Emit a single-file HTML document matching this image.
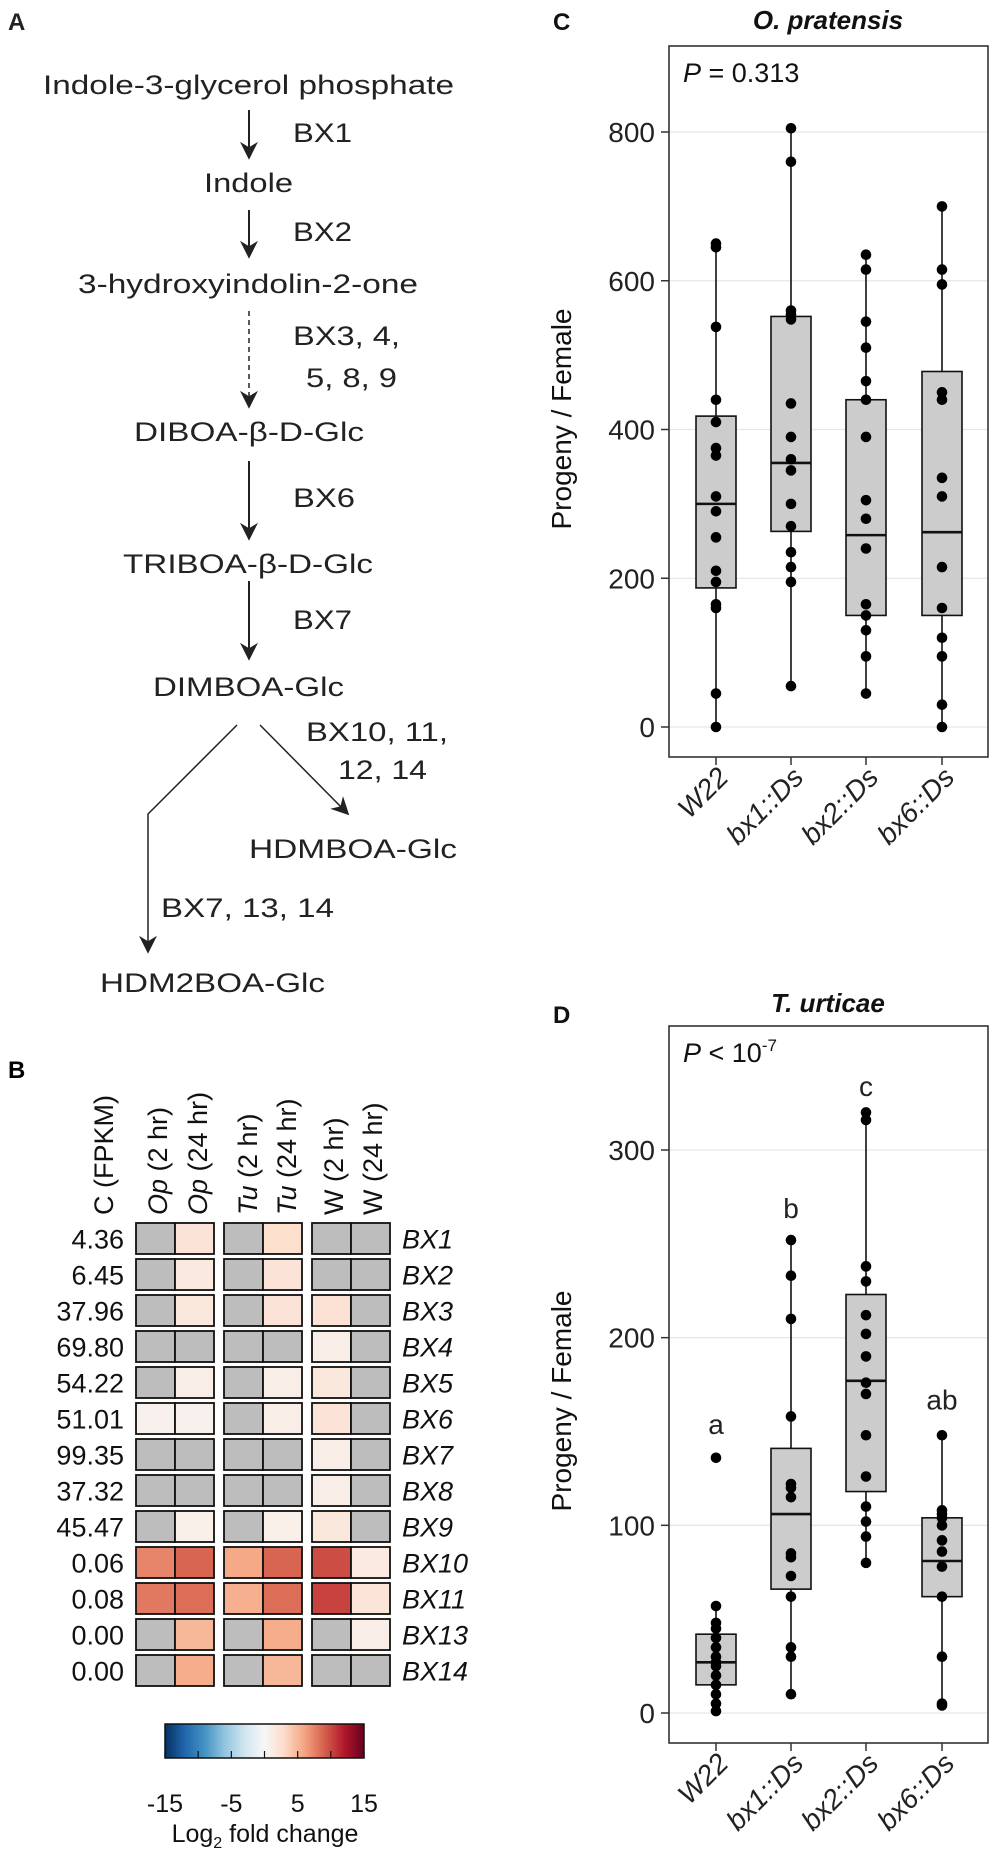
<!DOCTYPE html>
<html><head><meta charset="utf-8"><style>
html,body{margin:0;padding:0;background:#fff}
svg{display:block;font-family:"Liberation Sans",Arial,sans-serif}
</style></head><body>
<svg id="fig" xmlns="http://www.w3.org/2000/svg" width="995" height="1869" viewBox="0 0 995 1869">
<defs>
<marker id="ah2" viewBox="0 0 10 10" refX="9" refY="5" markerWidth="18" markerHeight="18" orient="auto" markerUnits="userSpaceOnUse"><path d="M0,0 L10,5 L0,10 L3,5 z" fill="#222"/></marker>
<linearGradient id="rdbu" x1="0" x2="1" y1="0" y2="0">
<stop offset="0" stop-color="#053061"/><stop offset="0.1" stop-color="#2166ac"/><stop offset="0.2" stop-color="#4393c3"/><stop offset="0.3" stop-color="#92c5de"/><stop offset="0.4" stop-color="#d1e5f0"/><stop offset="0.5" stop-color="#f7f7f7"/><stop offset="0.6" stop-color="#fddbc7"/><stop offset="0.7" stop-color="#f4a582"/><stop offset="0.8" stop-color="#d6604d"/><stop offset="0.9" stop-color="#b2182b"/><stop offset="1" stop-color="#67001f"/>
</linearGradient>
</defs>

<!-- Panel A -->
<g font-size="27" fill="#222">
<text x="8" y="30" font-weight="bold" font-size="24">A</text>
<text x="43" y="94" textLength="411" lengthAdjust="spacingAndGlyphs">Indole-3-glycerol phosphate</text>
<line x1="249" y1="110" x2="249" y2="158" stroke="#222" stroke-width="2" marker-end="url(#ah2)"/>
<text x="293" y="142" textLength="59" lengthAdjust="spacingAndGlyphs">BX1</text>
<text x="204" y="192" textLength="89" lengthAdjust="spacingAndGlyphs">Indole</text>
<line x1="249" y1="210" x2="249" y2="257" stroke="#222" stroke-width="2" marker-end="url(#ah2)"/>
<text x="293" y="241" textLength="59" lengthAdjust="spacingAndGlyphs">BX2</text>
<text x="78" y="293" textLength="340" lengthAdjust="spacingAndGlyphs">3-hydroxyindolin-2-one</text>
<line x1="249" y1="311" x2="249" y2="407" stroke="#222" stroke-width="1.5" stroke-dasharray="5,4" marker-end="url(#ah2)"/>
<text x="293" y="345" textLength="107" lengthAdjust="spacingAndGlyphs">BX3, 4,</text>
<text x="306" y="387" textLength="91" lengthAdjust="spacingAndGlyphs">5, 8, 9</text>
<text x="134" y="441" textLength="230" lengthAdjust="spacingAndGlyphs">DIBOA-β-D-Glc</text>
<line x1="249" y1="461" x2="249" y2="539" stroke="#222" stroke-width="2" marker-end="url(#ah2)"/>
<text x="293" y="507" textLength="62" lengthAdjust="spacingAndGlyphs">BX6</text>
<text x="123" y="573" textLength="250" lengthAdjust="spacingAndGlyphs">TRIBOA-β-D-Glc</text>
<line x1="249" y1="581" x2="249" y2="659" stroke="#222" stroke-width="2" marker-end="url(#ah2)"/>
<text x="293" y="629" textLength="59" lengthAdjust="spacingAndGlyphs">BX7</text>
<text x="153" y="696" textLength="191" lengthAdjust="spacingAndGlyphs">DIMBOA-Glc</text>
<line x1="260" y1="725" x2="348" y2="814" stroke="#222" stroke-width="1.5" marker-end="url(#ah2)"/>
<text x="306" y="741" textLength="142" lengthAdjust="spacingAndGlyphs">BX10, 11,</text>
<text x="338" y="779" textLength="89" lengthAdjust="spacingAndGlyphs">12, 14</text>
<text x="249" y="858" textLength="208" lengthAdjust="spacingAndGlyphs">HDMBOA-Glc</text>
<polyline points="237,725 148,814 148,952" fill="none" stroke="#222" stroke-width="1.5" marker-end="url(#ah2)"/>
<text x="161" y="917" textLength="173" lengthAdjust="spacingAndGlyphs">BX7, 13, 14</text>
<text x="100" y="992" textLength="225" lengthAdjust="spacingAndGlyphs">HDM2BOA-Glc</text>
</g>

<!-- Panel B -->
<g id="heat">
<text x="8" y="1078" font-weight="bold" font-size="24">B</text>
</g>

<!-- Panels C, D -->
<g id="pc"></g>
<g id="pd"></g>
</svg>

<script>
const NS = "http://www.w3.org/2000/svg";
// ---- Panel B data ----
const genes = ["BX1","BX2","BX3","BX4","BX5","BX6","BX7","BX8","BX9","BX10","BX11","BX13","BX14"];
const fpkm = ["4.36","6.45","37.96","69.80","54.22","51.01","99.35","37.32","45.47","0.06","0.08","0.00","0.00"];
const conditions = ["Op (2 hr)","Op (24 hr)","Tu (2 hr)","Tu (24 hr)","W (2 hr)","W (24 hr)"];
const logFC = [
 [null,2,null,2.6,null,null],
 [null,1.5,null,2,null,null],
 [null,1.6,null,2,2.2,null],
 [null,null,null,null,1,null],
 [null,1,null,1,1.6,null],
 [0.7,0.7,null,1,2,null],
 [null,null,null,null,1,null],
 [null,null,null,null,1,null],
 [null,0.8,null,0.8,1.6,null],
 [7.4,8.8,5.8,8.8,9.8,1.4],
 [7.9,8.4,5.4,8.4,10.2,1.9],
 [null,5,null,5.6,null,1],
 [null,5.6,null,5,null,null]
];
const cbTicks = [-15,-5,5,15];

// ---- Panel C data ----
const groups = ["W22","bx1::Ds","bx2::Ds","bx6::Ds"];
const cPoints = [
 [650,645,538,440,410,375,365,310,290,255,210,195,165,160,45,0],
 [805,760,560,555,548,435,390,360,345,300,270,235,215,195,55],
 [635,615,545,510,465,440,390,305,280,240,165,150,130,95,45],
 [700,615,595,450,440,335,310,215,160,120,95,30,0]
];
const cQ1 = [187,263,150,150];
const cMed = [300,355,258,262];
const cQ3 = [418,552,440,478];
const cLo = [0,55,45,0];
const cHi = [650,805,635,700];
const cTicks = [0,200,400,600,800];

// ---- Panel D data ----
const dPoints = [
 [136,57,48,45,40,35,30,27,25,20,15,10,5,1],
 [252,233,210,158,122,120,115,85,83,73,62,35,30,10],
 [320,316,238,230,212,202,190,176,170,148,126,110,102,94,80],
 [148,108,106,104,100,92,86,78,62,30,5,4]
];
const dQ1 = [15,66,118,62];
const dMed = [27,106,177,81];
const dQ3 = [42,141,223,104];
const dLo = [1,10,80,4];
const dHi = [57,252,320,148];
const dTicks = [0,100,200,300];
const dLetters = ["a","b","c","ab"];
const dLetterY = [154,269,334,167];

function mk(tag, attrs, parent, text){
  const e = document.createElementNS(NS, tag);
  for (const k in attrs) e.setAttribute(k, attrs[k]);
  if (text !== undefined) e.textContent = text;
  parent.appendChild(e);
  return e;
}

const stops = ["#053061","#2166ac","#4393c3","#92c5de","#d1e5f0","#f7f7f7","#fddbc7","#f4a582","#d6604d","#b2182b","#67001f"];
function hex2rgb(h){return [1,3,5].map(i=>parseInt(h.substr(i,2),16));}
function cmap(v){
  const t = Math.max(0, Math.min(1, (v+15)/30))*10;
  const i = Math.min(9, Math.floor(t)), f = t-i;
  const a = hex2rgb(stops[i]), b = hex2rgb(stops[i+1]);
  return "rgb("+a.map((x,k)=>Math.round(x+(b[k]-x)*f)).join(",")+")";
}

(function(){
  const g = document.getElementById("heat");
  const colX = [136,175,224,263,312,351];
  const cw = 39, ch = 31, top = 1223, pitch = 36.0;
  const hdrX = [157,197,247,286,333,372];
  const hc = mk("text",{x:0,y:0,"font-size":27,fill:"#111",transform:"translate(113,1215) rotate(-90)"},g,"C (FPKM)");
  
  
  conditions.forEach((c,j)=>{
    const t = mk("text",{x:0,y:0,"font-size":27,fill:"#111",transform:"translate("+(hdrX[j]+10)+",1215) rotate(-90)"},g);
    
    
    const parts = c.split(" ");
    if (parts[0] !== "W") { mk("tspan",{"font-style":"italic"},t,parts[0]); mk("tspan",{},t," "+parts.slice(1).join(" ")); }
    else t.textContent = c;
  });
  genes.forEach((gn,i)=>{
    const y = top + i*pitch;
    const n = mk("text",{x:124,y:y+ch/2+10,"text-anchor":"end","font-size":27,fill:"#111"},g,fpkm[i]);
    
    
    logFC[i].forEach((v,j)=>{
      const r = mk("rect",{x:colX[j],y:y,width:cw,height:ch,fill:v===null?"#bdbdbd":cmap(v),stroke:"#111","stroke-width":1.8},g);
      
      
    });
    const l = mk("text",{x:402,y:y+ch/2+10,"font-size":27,"font-style":"italic",fill:"#111"},g,gn);
    
    
  });
  const cb = mk("rect",{x:165,y:1724,width:199,height:34,fill:"url(#rdbu)",stroke:"#111","stroke-width":1.5},g);
  
  
  const cx = v => 165 + (v+15)/30*199;
  [-15,-10,-5,0,5,10,15].forEach(v=>{
    mk("line",{x1:cx(v),x2:cx(v),y1:1751,y2:1758,stroke:"#111","stroke-width":1.2},g);
  });
  cbTicks.forEach(v=>{
    const t = mk("text",{x:cx(v),y:1812,"text-anchor":"middle","font-size":25,fill:"#111"},g,String(v));
    
    
  });
  const lab = mk("text",{x:265,y:1842,"text-anchor":"middle","font-size":25,fill:"#111"},g);
  
  
  mk("tspan",{},lab,"Log");
  mk("tspan",{"font-size":16,dy:6},lab,"2");
  mk("tspan",{dy:-6},lab," fold change");
})();

function boxPanel(gid, cfg){
  const g = document.getElementById(gid);
  const L=669, R=988, T=cfg.top, B=cfg.bottom;
  const y = v => cfg.y0 - (v - cfg.vmin)*cfg.k;
  const xs = [716,791,866,942];
  const lbl = mk("text",{x:553,y:cfg.labY,"font-weight":"bold","font-size":24,fill:"#111"},g,cfg.letter);
  
  
  const ti = mk("text",{x:828,y:cfg.titleY,"text-anchor":"middle","font-weight":"bold","font-style":"italic","font-size":26,fill:"#111"},g,cfg.title);
  
  
  cfg.ticks.forEach(v=>{
    const gl = mk("line",{x1:L,x2:R,y1:y(v),y2:y(v),stroke:"#e6e6e6","stroke-width":1.3},g);
    
    
    mk("line",{x1:L-8,x2:L,y1:y(v),y2:y(v),stroke:"#333","stroke-width":1.5},g);
    const t = mk("text",{x:L-14,y:y(v)+10,"text-anchor":"end","font-size":28,fill:"#222"},g,String(v));
    
    
  });
  const fr = mk("rect",{x:L,y:T,width:R-L,height:B-T,fill:"none",stroke:"#333","stroke-width":1.6},g);
  
  
  const yl = mk("text",{x:0,y:0,"text-anchor":"middle","font-size":28,fill:"#111",transform:"translate("+571+","+cfg.ylabY+") rotate(-90)"},g,"Progeny / Female");
  
  
  const p = mk("text",{x:683,y:T+36,"font-size":27,fill:"#111"},g);
  
  
  mk("tspan",{"font-style":"italic"},p,"P");
  if (cfg.pSup){ mk("tspan",{},p," < 10"); mk("tspan",{"font-size":17,dy:-11},p,"-7"); }
  else mk("tspan",{},p," = 0.313");
  groups.forEach((gn,i)=>{
    const x = xs[i];
    mk("line",{x1:x,x2:x,y1:B,y2:B+8,stroke:"#333","stroke-width":1.5},g);
    const wh = mk("line",{x1:x,x2:x,y1:y(cfg.lo[i]),y2:y(cfg.hi[i]),stroke:"#111","stroke-width":1.6},g);
    
    
    const bx = mk("rect",{x:x-20,y:y(cfg.q3[i]),width:40,height:y(cfg.q1[i])-y(cfg.q3[i]),fill:"#cccccc",stroke:"#111","stroke-width":1.6},g);
    
    
    const md = mk("line",{x1:x-20,x2:x+20,y1:y(cfg.med[i]),y2:y(cfg.med[i]),stroke:"#111","stroke-width":2.6},g);
    
    
    cfg.pts[i].forEach(v=>{
      const c = mk("circle",{cx:x,cy:y(v),r:5.3,fill:"#000"},g);
      
      
    });
    const xl = mk("text",{x:0,y:0,"text-anchor":"end","font-size":28,"font-style":"italic",fill:"#222",transform:"translate("+(x+14)+","+(B+22)+") rotate(-45)"},g,gn);
    
    
    if (cfg.letters){
      const lt = mk("text",{x:x,y:y(cfg.letterY[i])+10,"text-anchor":"middle","font-size":28,fill:"#222"},g,cfg.letters[i]);
      
      
    }
  });
}
boxPanel("pc",{letter:"C",labY:30,title:"O. pratensis",titleY:29,top:46,bottom:757,y0:727,vmin:0,k:(727-132)/800,
  ticks:cTicks,pts:cPoints,q1:cQ1,med:cMed,q3:cQ3,lo:cLo,hi:cHi,ylabY:419,pSup:false});
boxPanel("pd",{letter:"D",labY:1023,title:"T. urticae",titleY:1012,top:1026,bottom:1743,y0:1713,vmin:0,k:(1713-1150)/300,
  ticks:dTicks,pts:dPoints,q1:dQ1,med:dMed,q3:dQ3,lo:dLo,hi:dHi,ylabY:1401,pSup:true,letters:dLetters,letterY:dLetterY});
</script>
</body></html>
